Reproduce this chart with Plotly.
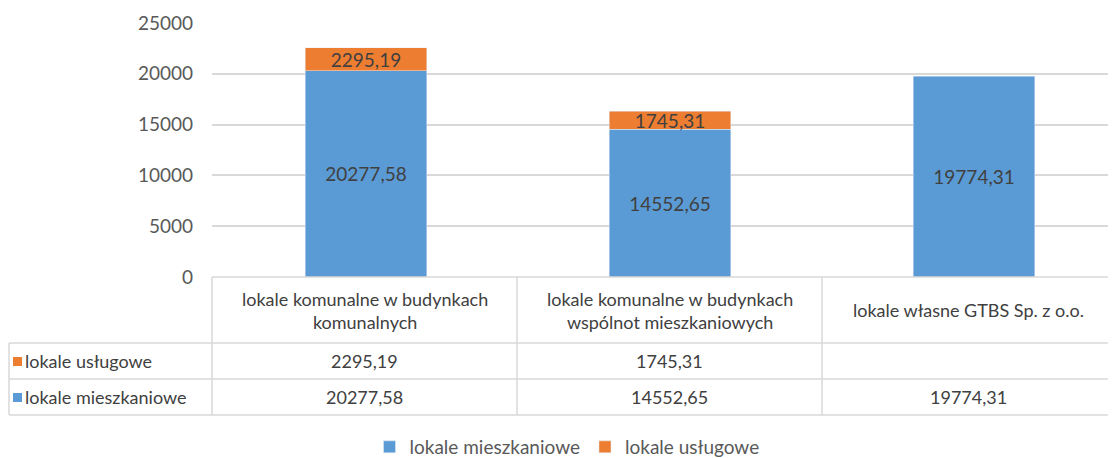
import plotly.graph_objects as go

# data
categories = [
    "lokale komunalne w budynkach komunalnych",
    "lokale komunalne w budynkach wspólnot mieszkaniowych",
    "lokale własne GTBS Sp. z o.o.",
]
category_labels = [
    "lokale komunalne w budynkach<br>komunalnych",
    "lokale komunalne w budynkach<br>wspólnot mieszkaniowych",
    "lokale własne GTBS Sp. z o.o.",
]
mieszkaniowe = [20277.58, 14552.65, 19774.31]
uslugowe = [2295.19, 1745.31, None]
y_ticks = [0, 5000, 10000, 15000, 20000, 25000]

BLUE = "#5B9BD5"
ORANGE = "#ED7D31"
TEXT = "#595959"
GRID = "#D9D9D9"
FONT = "Lato"
# the page body has an 8px margin, so the figure sits at (8, 8)
OX, OY = 8, 8
W, H = 1108, 450


def fmt(v):
    return "" if v is None else f"{v:.2f}".replace(".", ",")


def px(x):
    return (x - OX) / W


def py(y):
    return 1 - (y - OY) / H


fig = go.Figure()
fig.add_trace(go.Bar(
    x=categories, y=mieszkaniowe, name="lokale mieszkaniowe",
    marker_color=BLUE, width=0.4,
    text=[fmt(v) for v in mieszkaniowe], textposition="inside",
    insidetextanchor="middle", textfont=dict(color="#404040", size=19),
))
fig.add_trace(go.Bar(
    x=categories, y=uslugowe, name="lokale usługowe",
    marker_color=ORANGE, width=0.4,
    text=[fmt(v) for v in uslugowe], textposition="inside",
    insidetextanchor="middle", textfont=dict(color="#404040", size=19),
))

# data table under the plot
col_x = [212, 517, 822, 1114]
row_y = [277, 343, 379, 415]
left_x = 9
shapes = []
line = dict(color=GRID, width=1.5)
for y in row_y:
    x0 = col_x[0] if y == row_y[0] else left_x
    shapes.append(dict(type="line", xref="paper", yref="paper",
                       x0=px(x0), x1=px(col_x[-1]), y0=py(y), y1=py(y), line=line))
for x in col_x:
    shapes.append(dict(type="line", xref="paper", yref="paper",
                       x0=px(x), x1=px(x), y0=py(row_y[0]), y1=py(row_y[-1]), line=line))
shapes.append(dict(type="line", xref="paper", yref="paper",
                   x0=px(left_x), x1=px(left_x), y0=py(row_y[1]), y1=py(row_y[-1]), line=line))

annotations = []
tf = dict(family=FONT, size=18, color="#404040")
for i, lab in enumerate(category_labels):
    cx = (col_x[i] + col_x[i + 1]) / 2
    annotations.append(dict(xref="paper", yref="paper", x=px(cx), y=py((row_y[0] + row_y[1]) / 2),
                            xanchor="center", yanchor="middle",
                            text=lab, showarrow=False, font=tf, align="center"))
rows = [("lokale usługowe", ORANGE, uslugowe), ("lokale mieszkaniowe", BLUE, mieszkaniowe)]
for r, (name, color, vals) in enumerate(rows):
    y0, y1 = row_y[r + 1], row_y[r + 2]
    yc = (y0 + y1) / 2
    shapes.append(dict(type="rect", xref="paper", yref="paper", x0=px(13), x1=px(22),
                       y0=py(yc + 5), y1=py(yc - 4), fillcolor=color, line_width=0))
    annotations.append(dict(xref="paper", yref="paper", x=px(23), y=py(yc),
                            xanchor="left", yanchor="middle",
                            text=name, showarrow=False, font=tf))
    for i, v in enumerate(vals):
        cx = (col_x[i] + col_x[i + 1]) / 2
        annotations.append(dict(xref="paper", yref="paper", x=px(cx), y=py(yc),
                                xanchor="center", yanchor="middle",
                                text=fmt(v), showarrow=False, font=tf))

fig.update_layout(
    width=W, height=H, barmode="stack",
    margin=dict(l=0, r=0, t=0, b=0, pad=0, autoexpand=False),
    paper_bgcolor="white", plot_bgcolor="white",
    font=dict(family=FONT, size=18, color=TEXT),
    shapes=shapes, annotations=annotations,
    showlegend=True, hovermode=False,
    legend=dict(orientation="h", x=px(567), xanchor="center", y=py(447), yanchor="middle",
                font=dict(family=FONT, size=19, color=TEXT), traceorder="normal",
                itemwidth=30, tracegroupgap=0),
)
fig.update_xaxes(domain=[px(212), 1], range=[-0.5066, 2.467], showticklabels=False,
                 showgrid=False, showline=False, zeroline=False, automargin=False)
fig.update_yaxes(domain=[py(277), py(23)], range=[0, 25000], tickvals=y_ticks, tickformat="d",
                 showgrid=True, gridcolor=GRID, gridwidth=1.5, zeroline=False, automargin=False,
                 ticks="", ticklabelstandoff=18, tickfont=dict(family=FONT, size=19, color=TEXT))
fig.update_traces(cliponaxis=False, constraintext="none")
fig.write_html("out.html")
